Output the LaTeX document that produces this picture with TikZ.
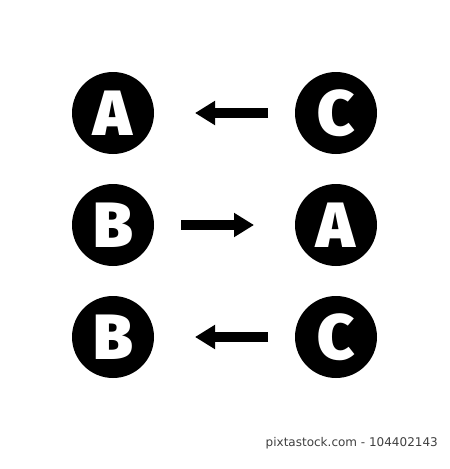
\documentclass[tikz,border=0pt]{standalone}
\usepackage{fontspec}
\setmainfont{Fira Sans}
\newfontfamily\heavyfont{Fira Sans Black}
\newfontfamily\capfont{DejaVu Sans}
\usetikzlibrary{arrows.meta}
\tikzset{
  letter/.style={circle, fill=black, minimum size=82pt, inner sep=0pt, outer sep=0pt,
    text=white, font=\heavyfont\fontsize{64}{64}\selectfont},
  bigarrow/.style={line width=10pt, line cap=butt,
    -{Triangle[length=20pt,width=23pt]}, shorten <=27pt, shorten >=41pt}
}
\begin{document}
\begin{tikzpicture}[x=1pt,y=-1pt]
\useasboundingbox[fill=white] (0,0) rectangle (450,469);
\node[letter] (l1) at (113,113) {A};
\node[letter] (r1) at (336,113) {C};
\node[letter] (l2) at (113,225) {B};
\node[letter] (r2) at (336,225) {A};
\node[letter] (l3) at (113,337) {B};
\node[letter] (r3) at (336,337) {C};
\draw[bigarrow] (r1) -- (l1);
\draw[bigarrow] (l2) -- (r2);
\draw[bigarrow] (r3) -- (l3);
\node[anchor=east, inner sep=0pt, text=black!75, font=\capfont\fontsize{12}{12}\selectfont] (cap) at (438,443) {pixtastock.com - 104402143};
\end{tikzpicture}
\end{document}
